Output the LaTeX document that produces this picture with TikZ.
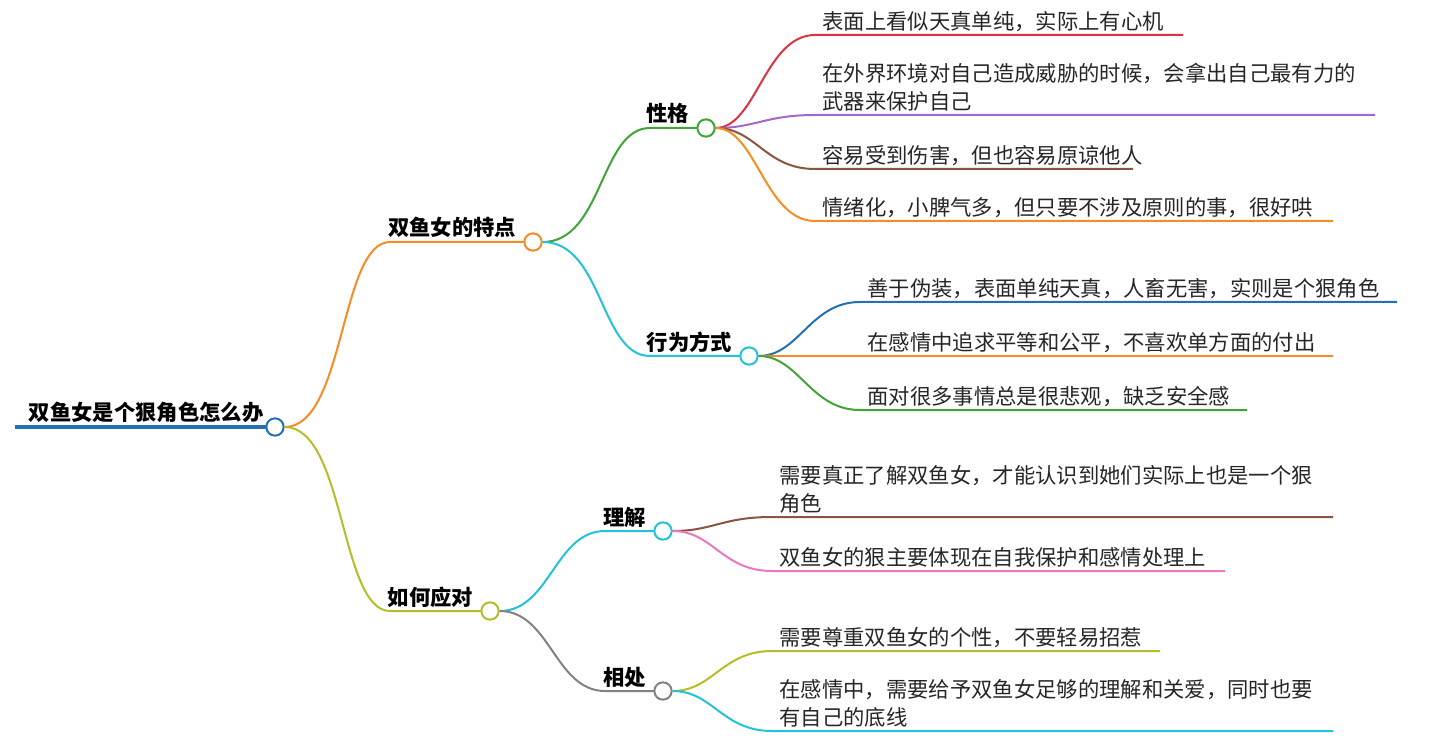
\documentclass[tikz,border=0pt]{standalone}
\usepackage{fontspec}
\setmainfont{Noto Sans CJK SC}
\definecolor{cRed}{RGB}{218,52,60}
\definecolor{cPurple}{RGB}{164,104,204}
\definecolor{cBrown}{RGB}{138,84,64}
\definecolor{cOrange}{RGB}{248,140,36}
\definecolor{cGreen}{RGB}{64,164,56}
\definecolor{cCyan}{RGB}{36,194,214}
\definecolor{cBlue}{RGB}{36,112,180}
\definecolor{cOlive}{RGB}{184,188,40}
\definecolor{cPink}{RGB}{232,120,192}
\definecolor{cGray}{RGB}{130,130,130}
\tikzset{
  dot/.style={circle, draw=#1, fill=white, line width=1.5pt, inner sep=0pt, minimum size=13pt},
  edge/.style={draw=#1, line width=1.5pt},
  head/.style={font=\fontsize{16}{18}\selectfont\bfseries, anchor=base east, text=black},
  leaf/.style={font=\fontsize{16}{21}\selectfont, anchor=south west, align=left, text=black!85, inner sep=1pt},
}
\begin{document}
\begin{tikzpicture}[x=0.75pt, y=-0.75pt]
  \useasboundingbox (0,0) rectangle (1452,741);

  % root
  \draw[cBlue, line width=3pt] (15,427) -- (268,427);
  \node[head, anchor=base west] (root) at (24,420) {双鱼女是个狠角色怎么办};
  \node[dot=cBlue] (r) at (275,427) {};

  % first level
  \draw[edge=cOrange] (r) .. controls +(70,0) and +(-50,0) .. (390,242) -- (526,242);
  \node[head] (tedian) at (521,236) {双鱼女的特点};
  \node[dot=cOrange] (a) at (533,242) {};
  \draw[edge=cOlive] (r) .. controls +(70,0) and +(-50,0) .. (390,611) -- (483,611);
  \node[head] (yingdui) at (478,605) {如何应对};
  \node[dot=cOlive] (b) at (490,611) {};

  % second level
  \draw[edge=cGreen] (a) .. controls +(70,0) and +(-50,0) .. (650,128) -- (699,128);
  \node[head] (xingge) at (694,122) {性格};
  \node[dot=cGreen] (a1) at (706,128) {};
  \draw[edge=cCyan] (a) .. controls +(70,0) and +(-50,0) .. (650,356) -- (742,356);
  \node[head] (xingwei) at (737,350) {行为方式};
  \node[dot=cCyan] (a2) at (749,356) {};
  \draw[edge=cCyan] (b) .. controls +(60,0) and +(-50,0) .. (605,531) -- (656,531);
  \node[head] (lijie) at (651,525) {理解};
  \node[dot=cCyan] (b1) at (663,531) {};
  \draw[edge=cGray] (b) .. controls +(60,0) and +(-50,0) .. (605,691) -- (656,691);
  \node[head] (xiangchu) at (651,685) {相处};
  \node[dot=cGray] (b2) at (663,691) {};

  % leaves of 性格
  \draw[edge=cRed] (a1) .. controls +(50,0) and +(-50,0) .. (815,35) -- (1183,35);
  \node[leaf] (l1) at (821,33) {表面上看似天真单纯，实际上有心机};
  \draw[edge=cPurple] (a1) .. controls +(50,0) and +(-50,0) .. (815,115) -- (1375,115);
  \node[leaf] (l2) at (821,113) {在外界环境对自己造成威胁的时候，会拿出自己最有力的\\武器来保护自己};
  \draw[edge=cBrown] (a1) .. controls +(50,0) and +(-50,0) .. (815,169) -- (1133,169);
  \node[leaf] (l3) at (821,167) {容易受到伤害，但也容易原谅他人};
  \draw[edge=cOrange] (a1) .. controls +(50,0) and +(-50,0) .. (815,221) -- (1333,221);
  \node[leaf] (l4) at (821,219) {情绪化，小脾气多，但只要不涉及原则的事，很好哄};

  % leaves of 行为方式
  \draw[edge=cBlue] (a2) .. controls +(50,0) and +(-50,0) .. (860,302) -- (1397,302);
  \node[leaf] (l5) at (866,300) {善于伪装，表面单纯天真，人畜无害，实则是个狠角色};
  \draw[edge=cOrange] (a2) -- (1333,356);
  \node[leaf] (l6) at (866,354) {在感情中追求平等和公平，不喜欢单方面的付出};
  \draw[edge=cGreen] (a2) .. controls +(50,0) and +(-50,0) .. (860,410) -- (1247,410);
  \node[leaf] (l7) at (866,408) {面对很多事情总是很悲观，缺乏安全感};

  % leaves of 理解
  \draw[edge=cBrown] (b1) .. controls +(50,0) and +(-50,0) .. (772,517) -- (1333,517);
  \node[leaf] (l8) at (778,515) {需要真正了解双鱼女，才能认识到她们实际上也是一个狠\\角色};
  \draw[edge=cPink] (b1) .. controls +(50,0) and +(-50,0) .. (772,571) -- (1225,571);
  \node[leaf] (l9) at (778,569) {双鱼女的狠主要体现在自我保护和感情处理上};

  % leaves of 相处
  \draw[edge=cOlive] (b2) .. controls +(50,0) and +(-50,0) .. (772,651) -- (1160,651);
  \node[leaf] (l10) at (778,649) {需要尊重双鱼女的个性，不要轻易招惹};
  \draw[edge=cCyan] (b2) .. controls +(50,0) and +(-50,0) .. (772,731) -- (1333,731);
  \node[leaf] (l11) at (778,729) {在感情中，需要给予双鱼女足够的理解和关爱，同时也要\\有自己的底线};
\end{tikzpicture}
\end{document}
